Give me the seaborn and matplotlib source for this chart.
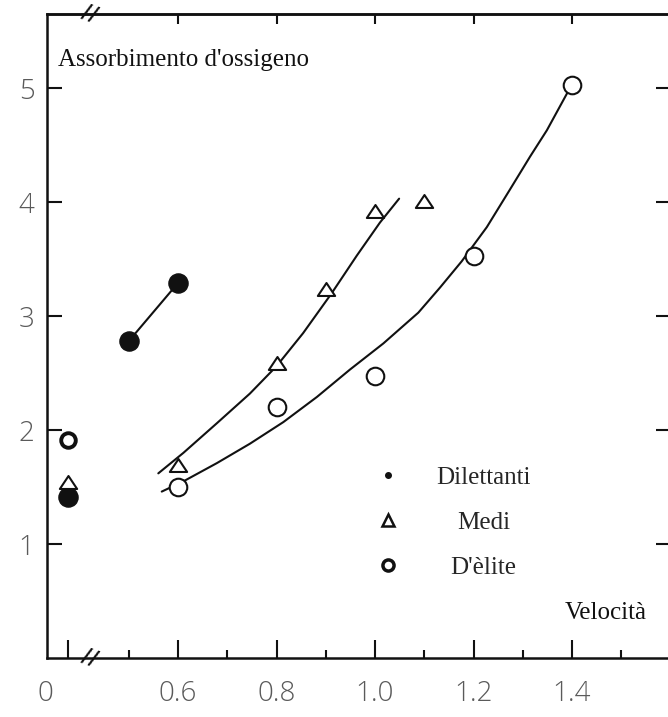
import numpy as np
import pandas as pd
import matplotlib
matplotlib.use("Agg")
import matplotlib.pyplot as plt
from matplotlib.lines import Line2D
from matplotlib.path import Path
from matplotlib.transforms import ScaledTranslation
import seaborn as sns

groups = ["Dilettanti", "Medi", "D'èlite"]
rest_o2 = [1.41, 1.54, 1.91]          # values at rest (velocity 0)

dil_v = [0.5, 0.6]
dil_o2 = [2.78, 3.29]
medi_v = [0.6, 0.8, 0.9, 1.0, 1.1]
medi_o2 = [1.69, 2.59, 3.24, 3.92, 4.01]
elite_v = [0.6, 0.8, 1.0, 1.2, 1.4]
elite_o2 = [1.50, 2.20, 2.47, 3.53, 5.03]

# hand drawn trend curves
medi_curve_v = [0.560, 0.611, 0.679, 0.746, 0.800, 0.854, 0.912, 0.963, 1.010, 1.049]
medi_curve_o2 = [1.62, 1.80, 2.06, 2.32, 2.56, 2.85, 3.20, 3.53, 3.82, 4.03]
elite_curve_v = [0.567, 0.611, 0.679, 0.746, 0.814, 0.882, 0.949, 1.017, 1.088,
                 1.132, 1.176, 1.227, 1.274, 1.315, 1.349, 1.392]
elite_curve_o2 = [1.46, 1.55, 1.71, 1.88, 2.07, 2.29, 2.53, 2.76, 3.03,
                  3.25, 3.48, 3.78, 4.11, 4.40, 4.63, 4.97]

x_ticks = [0, 0.6, 0.8, 1.0, 1.2, 1.4]
x_labels = ["0", "0.6", "0.8", "1.0", "1.2", "1.4"]
x_minor = [0.5, 0.7, 0.9, 1.1, 1.3, 1.5]
y_ticks = [1, 2, 3, 4, 5]

REST_POS = 0.377   # where velocity 0 is drawn, left of the axis break
BREAK_POS = 0.42
INK = "#111111"
SERIF = "Liberation Serif"


def pos(v):
    v = np.asarray(v, dtype=float)
    return np.where(v == 0, REST_POS, v)


sns.set_theme(style="ticks")
plt.rcParams["font.family"] = ["Open Sans", "DejaVu Sans"]

moving = pd.concat([
    pd.DataFrame({"group": "Dilettanti", "velocity": dil_v, "o2": dil_o2}),
    pd.DataFrame({"group": "Medi", "velocity": medi_v, "o2": medi_o2}),
    pd.DataFrame({"group": "D'èlite", "velocity": elite_v, "o2": elite_o2}),
])
rest = pd.DataFrame({"group": groups, "velocity": 0.0, "o2": rest_o2})
moving["x"] = pos(moving["velocity"])
rest["x"] = pos(rest["velocity"])

# a slightly flattened triangle, closed so all three edges are stroked
tri = Path([(0, 0.75), (-1, -0.75), (1, -0.75), (0, 0.75)],
           [Path.MOVETO, Path.LINETO, Path.LINETO, Path.CLOSEPOLY])
styles = {
    "Dilettanti": dict(marker="o", s=190, color=INK, edgecolor=INK, linewidth=1),
    "Medi": dict(marker=tri, s=155, color="white", edgecolor=INK, linewidth=1.5),
    "D'èlite": dict(marker="o", s=160, color="white", edgecolor=INK, linewidth=1.5),
}
rest_styles = dict(styles)
rest_styles["D'èlite"] = dict(marker="o", s=110, color="white", edgecolor=INK, linewidth=2.8)

fig = plt.figure(figsize=(6.68, 7.17), dpi=100)
ax = fig.add_axes([47 / 668, 59 / 717, 623.5 / 668, 644 / 717])

line_kw = dict(color=INK, linewidth=1.5, sort=False, estimator=None, ax=ax, zorder=2)
sns.lineplot(x=dil_v, y=dil_o2, **line_kw)
sns.lineplot(x=medi_curve_v, y=medi_curve_o2, **line_kw)
sns.lineplot(x=elite_curve_v, y=elite_curve_o2, **line_kw)

for g in groups:
    sub = moving[moving["group"] == g]
    sns.scatterplot(data=sub, x="x", y="o2", ax=ax, zorder=3, legend=False, **styles[g])
for g in groups:
    sub = rest[rest["group"] == g]
    sns.scatterplot(data=sub, x="x", y="o2", ax=ax, zorder=3, legend=False, **rest_styles[g])

ax.set_xlim(0.334, 1.6)
ax.set_ylim(0, 5.65)
ax.set_xlabel("")
ax.set_ylabel("")

for side in ["left", "bottom", "top", "right"]:
    ax.spines[side].set_visible(True)
    ax.spines[side].set_linewidth(1.8)
    ax.spines[side].set_color(INK)

ax.set_xticks(pos(x_ticks))
ax.set_xticklabels(x_labels)
ax.set_xticks(x_minor, minor=True)
ax.set_yticks(y_ticks)
ax.set_yticklabels([str(t) for t in y_ticks])

ax.tick_params(axis="both", which="both", direction="in", color=INK, labelcolor="#5a5a5a")
ax.tick_params(axis="x", which="major", length=13, width=1.5, pad=16, labelsize=20,
               top=False, bottom=True)
ax.tick_params(axis="x", which="minor", length=6, width=1.5, top=False, bottom=True)
ax.tick_params(axis="y", which="major", length=10.5, width=1.5, pad=9, labelsize=20,
               left=True, right=True)

top = ax.secondary_xaxis("top")
top.set_xticks(x_ticks[1:])
top.set_xticklabels([])
top.tick_params(direction="in", length=7, width=1.5, color=INK)
top.spines["top"].set_linewidth(1.8)
top.spines["top"].set_color(INK)

for lab in ax.get_xticklabels() + ax.get_yticklabels():
    lab.set_fontweight("light")
zero = ax.get_xticklabels()[0]
zero.set_transform(zero.get_transform() + ScaledTranslation(-23 / 100, 0, fig.dpi_scale_trans))

# axis break marks
for yb in (0, 1):
    ax.text(BREAK_POS, yb, "//", transform=ax.get_xaxis_transform(), ha="center", va="center",
            fontsize=15, fontweight="bold", family="DejaVu Sans", rotation=-20, color=INK,
            clip_on=False)

ax.text(0.0176, 0.929, "Assorbimento d'ossigeno", transform=ax.transAxes, fontsize=18,
        family=SERIF, ha="left", va="center", color=INK)
ax.text(0.831, 0.07, "Velocità", transform=ax.transAxes, fontsize=18,
        family=SERIF, ha="left", va="center", color=INK)

handles = [
    Line2D([], [], ls="none", marker="o", ms=4, color=INK),
    Line2D([], [], ls="none", marker="^", ms=9, mfc="white", mec=INK, mew=1.8),
    Line2D([], [], ls="none", marker="o", ms=8, mfc="white", mec=INK, mew=2.5),
]
leg = ax.legend(handles, groups, loc="center left", bbox_to_anchor=(0.527, 0.21),
                frameon=False, prop={"family": SERIF, "size": 18}, handlelength=1.0,
                handletextpad=1.42, labelspacing=0.9, borderpad=0, borderaxespad=0)
# the labels in the original are centred on one another
for txt, dx in zip(leg.get_texts(), [0, 21, 14]):
    txt.set_transform(txt.get_transform() + ScaledTranslation(dx / 100, 0, fig.dpi_scale_trans))

fig.savefig("out.png", dpi=100, facecolor="white")
